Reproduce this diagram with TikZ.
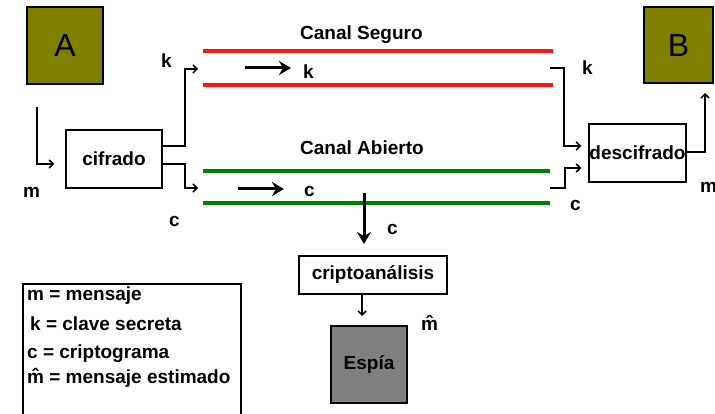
\documentclass[tikz,border=0pt]{standalone}
\usepackage{fontspec}
\setmainfont{Liberation Sans}
\usetikzlibrary{arrows.meta,calc}
\definecolor{olivebox}{RGB}{128,128,0}
\definecolor{spygray}{RGB}{128,128,128}
\definecolor{chred}{RGB}{255,20,20}
\definecolor{chgreen}{RGB}{0,128,0}
\begin{document}
\begin{tikzpicture}[x=1pt,y=-1pt,
  txt/.style={font=\fontsize{19}{21}\selectfont\bfseries},
  lbl/.style={txt,anchor=base west,inner sep=0},
  obox/.style={draw=black,line width=2pt,fill=olivebox,inner sep=0,font=\fontsize{32}{34}\selectfont},
  wbox/.style={draw=black,line width=1.5pt,fill=white,inner sep=0,txt},
  conn/.style={draw=black,line width=1.5pt,-{Straight Barb[length=4pt,width=8pt]}},
  bigarrow/.style={draw=black,line width=3pt,-{Stealth[length=12pt,width=14pt,inset=4pt]}},
  redch/.style={draw=chred,line width=4pt},
  greench/.style={draw=chgreen,line width=4pt}]
\useasboundingbox (0,0) rectangle (715,414);
% boxes
\node[obox,minimum width=76,minimum height=77] (A) at (65,45.5) {A};
\node[obox,minimum width=69,minimum height=76] (B) at (678.5,45) {B};
\node[wbox,minimum width=96,minimum height=58] (cif) at (114,159) {cifrado};
\node[wbox,minimum width=97,minimum height=58] (desc) at (637.5,153) {descifrado};
\node[wbox,minimum width=148,minimum height=38] (cripto) at (373,275) {criptoanálisis};
\node[draw=black,line width=2pt,fill=spygray,inner sep=0,txt,minimum width=76,minimum height=77] (espia) at (369,364.5) {Espía};
% channels
\draw[redch] (203,51) coordinate (r1a) -- (553,51) coordinate (r1b);
\draw[redch] (203,85) coordinate (r2a) -- (553,85) coordinate (r2b);
\draw[greench] (203,171) coordinate (g1a) -- (550,171) coordinate (g1b);
\draw[greench] (203,203) coordinate (g2a) -- (550,203) coordinate (g2b);
\node[lbl] (cs) at (300,40) {Canal Seguro};
\node[lbl] (ca) at (300,155) {Canal Abierto};
% channel arrows
\coordinate (ka1) at (245,68); \coordinate (ka2) at (291,68);
\draw[bigarrow] (ka1) -- (ka2);
\coordinate (ca1) at (238,189); \coordinate (ca2) at (284,189);
\draw[bigarrow] (ca1) -- (ca2);
\node[lbl] (kch) at (303,79) {k};
\node[lbl] (cch) at (304,197) {c};
% input m
\coordinate (min) at (37,107);
\draw[conn] (min) |- ($(cif.west)+(-11,5)$);
\node[lbl] (mlab) at (23,198) {m};
% cifrado outputs
\coordinate (kin) at (198,69);
\coordinate (cin) at (198,188);
\draw[conn] ($(cif.east)+(0,-13)$) -- ++(22,0) |- (kin);
\draw[conn] ($(cif.east)+(0,5)$) -- ++(22,0) |- (cin);
\node[lbl] (klab) at (161,68) {k};
\node[lbl] (clab) at (169,227) {c};
% to descifrado
\coordinate (kout) at (550,68);
\coordinate (cout) at (550,188);
\draw[conn] (kout) -- (564,68) |- ($(desc.west)+(-7,-7)$);
\draw[conn] (cout) -- (565,188) |- ($(desc.west)+(-7,15)$);
\node[lbl] (krlab) at (582,75) {k};
\node[lbl] (crlab) at (570,211) {c};
% descifrado to B
\coordinate (bin) at (705,93);
\draw[conn] ($(desc.east)+(0,-1)$) -| (bin);
\node[lbl] (mrlab) at (700,193) {m};
% tap to cryptanalysis
\coordinate (tap) at (364,193);
\coordinate (tapend) at (364,244);
\draw[bigarrow] (tap) -- (tapend);
\node[lbl] (cdlab) at (387,235) {c};
\draw[conn] ($(cripto.south)+(-11,0)$) -- ($(espia.north)+(-7,-9)$);
\node[lbl] (mhlab) at (421,330) {m^^^^0302};
% legend
\draw[black,line width=1.5pt] (23,284) rectangle (241,430);
\node[lbl] (l1) at (27,300) {m = mensaje};
\node[lbl] (l2) at (30,330) {k = clave secreta};
\node[lbl] (l3) at (27,358) {c = criptograma};
\node[lbl] (l4) at (27,383) {m^^^^0302 = mensaje estimado};
\end{tikzpicture}
\end{document}
